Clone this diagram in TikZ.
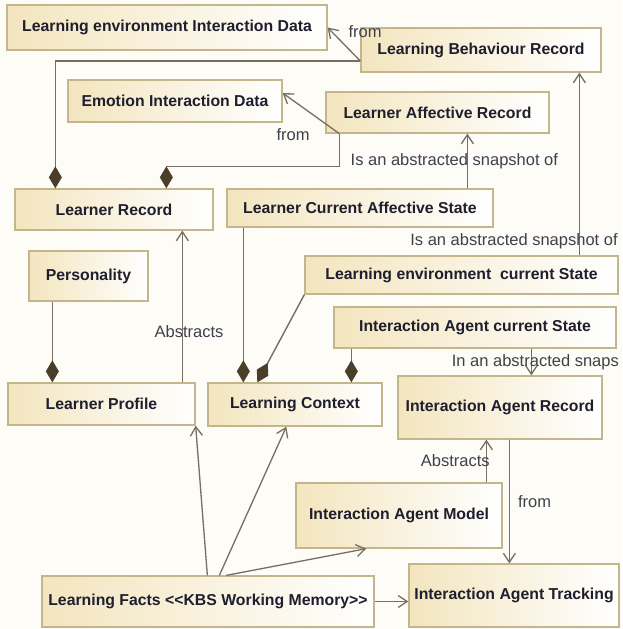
\documentclass[tikz,border=0pt]{standalone}
\usepackage{fontspec}
\setmainfont{Liberation Sans}
\usetikzlibrary{arrows.meta}
\definecolor{boxtan}{RGB}{243,229,190}
\definecolor{boxedge}{RGB}{196,182,140}
\definecolor{linkgray}{RGB}{118,110,94}
\definecolor{diamondbrown}{RGB}{74,62,42}
\definecolor{textdark}{RGB}{30,30,46}
\definecolor{bg}{RGB}{253,252,246}
\tikzset{
  classbox/.style={rectangle, draw=boxedge, line width=1.3pt,
                   left color=boxtan, right color=white, text=textdark,
                   font=\bfseries\fontsize{15.8}{18}\selectfont, inner sep=0pt},
  comp/.style={draw=linkgray, line width=1.4pt,
               -{Diamond[length=22pt,width=13pt,color=diamondbrown,fill=diamondbrown]}},
  assoc/.style={draw=linkgray, line width=1.3pt,
                -{Straight Barb[length=9pt,width=12pt]}},
  lbl/.style={font=\fontsize{16.5}{18}\selectfont, text=textdark!85, inner sep=0pt},
}

\begin{document}
\begin{tikzpicture}[x=1pt, y=-1pt]
  \useasboundingbox (0,0) rectangle (622,629);
  \fill[bg] (0,0) rectangle (622,629);
  % class boxes
  \node[classbox, minimum width=320pt, minimum height=45pt] (leid) at (167,27.5) {Learning environment Interaction Data};
  \node[classbox, minimum width=240pt, minimum height=44pt] (lbr) at (481,50) {Learning Behaviour Record};
  \node[classbox, minimum width=214pt, minimum height=42pt] (eid) at (175,101) {Emotion Interaction Data};
  \node[classbox, minimum width=223pt, minimum height=41pt] (lar) at (437.5,112.5) {Learner Affective Record};
  \node[classbox, minimum width=198pt, minimum height=41pt] (lr) at (114,209.5) {Learner Record};
  \node[classbox, minimum width=266pt, minimum height=38pt] (lcas) at (360,208) {Learner Current Affective State};
  \node[classbox, minimum width=119pt, minimum height=50pt] (pers) at (88.5,276) {Personality};
  \node[classbox, minimum width=313pt, minimum height=38pt] (lecs) at (461.5,275) {Learning environment\ \ current State};
  \node[classbox, minimum width=282pt, minimum height=41pt] (iacs) at (475,327.5) {Interaction Agent current State};
  \node[classbox, minimum width=187pt, minimum height=42pt] (lp) at (101.5,404) {Learner Profile};
  \node[classbox, minimum width=174pt, minimum height=43pt] (lc) at (295,404.5) {Learning Context};
  \node[classbox, minimum width=204pt, minimum height=63pt] (iar) at (500,407.5) {Interaction Agent Record};
  \node[classbox, minimum width=206pt, minimum height=65pt] (iam) at (399,515.5) {Interaction Agent Model};
  \node[classbox, minimum width=332pt, minimum height=51pt] (lf) at (208,601.5) {Learning Facts <\kern0pt<KBS Working Memory>\kern0pt>};
  \node[classbox, minimum width=210pt, minimum height=63pt] (iat) at (514,595.5) {Interaction Agent Tracking};
  % compositions
  \draw[comp] ([yshift=-11pt]lbr.west) -| ([xshift=41pt]lr.north west);
  \draw[comp] ([xshift=14pt]lar.south west) -- ++(0,33) -| ([xshift=152pt]lr.north west);
  \draw[comp] ([xshift=24pt]pers.south west) -- ([xshift=45pt]lp.north west);
  \draw[comp] ([xshift=17pt]lcas.south west) -- ([xshift=36pt]lc.north west);
  \draw[comp] (lecs.south west) -- ([xshift=50pt]lc.north west);
  \draw[comp] ([xshift=18pt]iacs.south west) -- ([xshift=144pt]lc.north west);
  % associations
  \draw[assoc] ([yshift=-11pt]lbr.west) -- (leid.east);
  \node[lbl] (from1) at (365,32) {from};
  \draw[assoc] ([xshift=14pt]lar.south west) -- ([yshift=8pt]eid.east);
  \node[lbl] (from2) at (293,135) {from};
  \draw[assoc] ([xshift=241pt]lcas.north west) -- node[lbl, xshift=-13pt] {Is an abstracted snapshot of} ([xshift=142pt]lar.south west);
  \draw[assoc] ([xshift=275pt]lecs.north west) -- ([xshift=219pt]lbr.south west);
  \node[lbl] (snap2) at (514,241) {Is an abstracted snapshot of};
  \draw[assoc] ([xshift=175pt]lp.north west) -- ([xshift=168pt]lr.south west);
  \node[lbl] (abs1) at (189,332) {Abstracts};
  \draw[assoc] ([xshift=198pt]iacs.south west) -- node[lbl, xshift=4pt] {In an abstracted snaps} ([xshift=134pt]iar.north west);
  \draw[assoc] ([xshift=191pt]iam.north west) -- node[lbl, xshift=-31pt] {Abstracts} ([xshift=89pt]iar.south west);
  \draw[assoc] ([xshift=112pt]iar.south west) -- node[lbl, right=8pt] {from} ([xshift=101pt]iat.north west);
  \draw[assoc] (lf.east) -- (lf.east -| iat.west);
  \draw[assoc] ([xshift=166pt]lf.north west) -- (lp.south east);
  \draw[assoc] ([xshift=178pt]lf.north west) -- ([xshift=79pt]lc.south west);
  \draw[assoc] ([xshift=185pt]lf.north west) -- ([xshift=71pt]iam.south west);
\end{tikzpicture}
\end{document}
